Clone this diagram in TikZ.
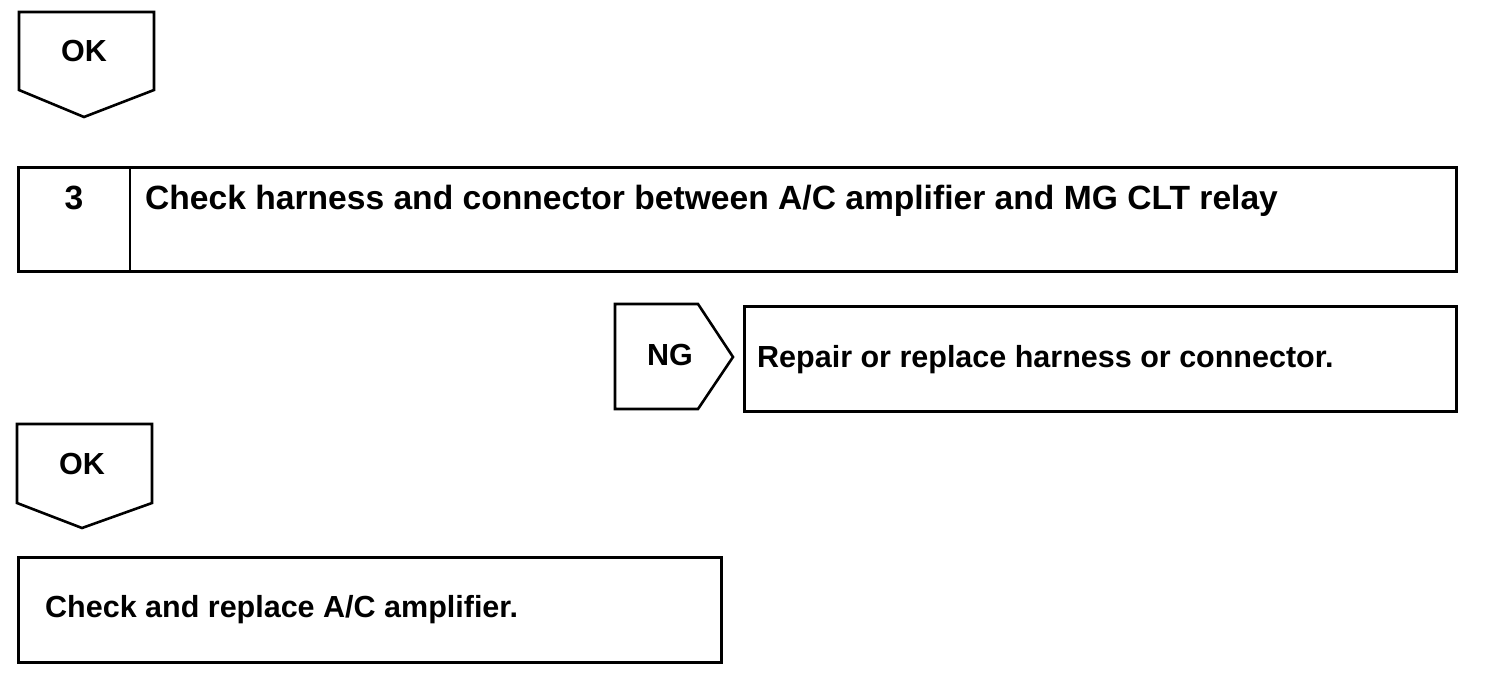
\documentclass[tikz,border=0pt]{standalone}
\usepackage{fontspec}
\setmainfont{Liberation Sans}
\usepackage{xcolor}
\usetikzlibrary{positioning}
\tikzset{
  box/.style={draw=black, line width=2.6pt, inner sep=0pt, anchor=north west},
  label text/.style={font=\fontsize{30.5}{36}\selectfont\bfseries, inner sep=0pt},
  title text/.style={font=\fontsize{33.6}{40}\selectfont\bfseries, inner sep=0pt},
  mark line/.style={draw=black, line width=2.6pt, line join=miter}
}

\begin{document}
\begin{tikzpicture}[x=1pt, y=-1pt]
    \useasboundingbox (0,0) rectangle (1504,688);
    % first OK mark
    \draw[mark line] (19,12) -- (154,12) -- (154,90) -- (84,117) -- (19,90) -- cycle;
    \node[label text] (ok1) at (84,51) {OK};
    % step 3
    \node[box, minimum width=1438pt, minimum height=104pt] (step) at (17,166) {};
    \draw[mark line] (130,166) -- (130,270);
    \node[title text, anchor=base] (num) at (74,209) {3};
    \node[title text, anchor=base west] (title) at (145,209)
      {Check harness and connector between A/C amplifier and MG CLT relay};
    % NG branch
    \draw[mark line] (615,304) -- (698,304) -- (733,357) -- (698,409) -- (615,409) -- cycle;
    \node[label text] (ng) at (670,355) {NG};
    \node[box, minimum width=712pt, minimum height=105pt] (repair) at (743,305) {};
    \node[label text, anchor=base west] (repairtext) at (757,367)
      {Repair or replace harness or connector.};
    % second OK mark
    \draw[mark line] (17,424) -- (152,424) -- (152,503) -- (82,528) -- (17,503) -- cycle;
    \node[label text] (ok2) at (82,464) {OK};
    % last step
    \node[box, minimum width=703pt, minimum height=105pt] (final) at (17,556) {};
    \node[label text, anchor=base west] (finaltext) at (45,617)
      {Check and replace A/C amplifier.};
\end{tikzpicture}
\end{document}
